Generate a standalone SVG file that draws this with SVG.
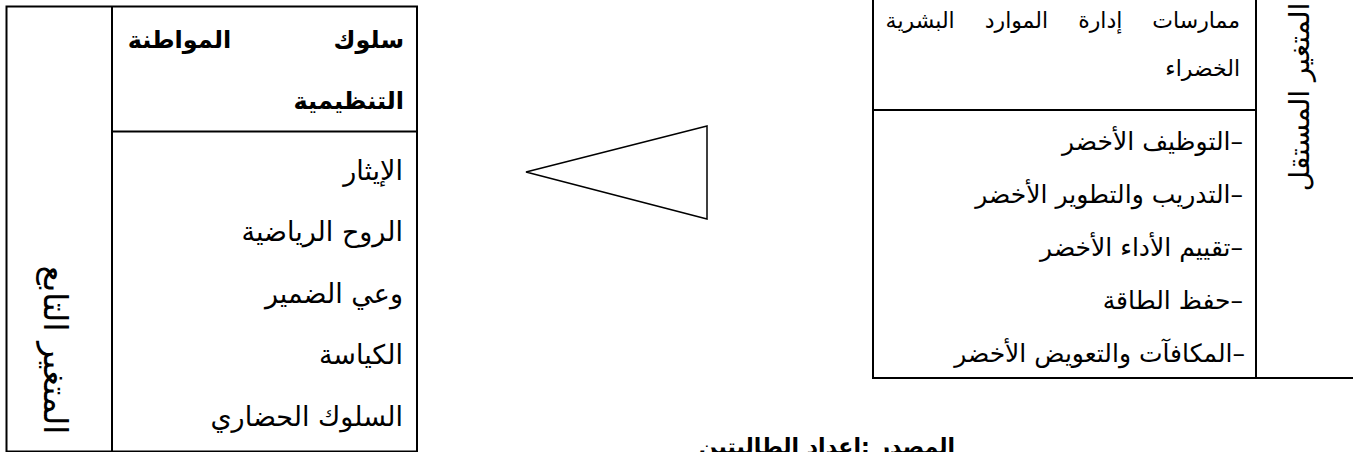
<svg xmlns="http://www.w3.org/2000/svg" width="1353" height="452" viewBox="0 0 1353 452">
<style>
.box{fill:none;stroke:#000;stroke-width:2}
.ln{stroke:#000;stroke-width:2}
.t{font-family:'DejaVu Sans',sans-serif;fill:#000;direction:rtl}
.b{font-weight:bold}
.li{font-size:27px}
.ri{font-size:25px}
</style>
<rect width="1353" height="452" fill="#fff"/>
<g id="dependent-variable">
  <rect class="box" x="6.5" y="6.5" width="410.5" height="445"/>
  <line class="ln" x1="112" y1="6.5" x2="112" y2="451.5"/>
  <line class="ln" x1="112" y1="131.5" x2="417" y2="131.5"/>
  <text class="t" font-size="33" text-anchor="middle" transform="translate(44,350) rotate(90)">المتغير التابع</text>
  <text class="t b" font-size="24" text-anchor="start" x="404" y="48" word-spacing="94">سلوك المواطنة</text>
  <text class="t b" font-size="24" text-anchor="start" x="404" y="109">التنظيمية</text>
  <text class="t li" text-anchor="start" x="403" y="180">الإيثار</text>
  <text class="t li" text-anchor="start" x="403" y="241">الروح الرياضية</text>
  <text class="t li" text-anchor="start" x="403" y="303">وعي الضمير</text>
  <text class="t li" text-anchor="start" x="403" y="364">الكياسة</text>
  <text class="t li" text-anchor="start" x="403" y="426">السلوك الحضاري</text>
</g>
<g id="connectors">
  <polygon points="707,126 526,172 707,219" fill="none" stroke="#000" stroke-width="1.5"/>
</g>
<g id="independent-variable">
  <rect class="box" x="873" y="-5" width="490" height="383"/>
  <line class="ln" x1="1256" y1="-5" x2="1256" y2="378"/>
  <line class="ln" x1="873" y1="110" x2="1256" y2="110"/>
  <text class="t" font-size="28" text-anchor="middle" transform="translate(1309,97) rotate(-90)">المتغير المستقل</text>
  <text class="t" font-size="22" text-anchor="start" x="1240" y="28" word-spacing="23">ممارسات إدارة الموارد البشرية</text>
  <text class="t" font-size="22" text-anchor="start" x="1240" y="76">الخضراء</text>
  <text class="t ri" text-anchor="start" x="1243" y="150">–التوظيف الأخضر</text>
  <text class="t ri" text-anchor="start" x="1243" y="203">–التدريب والتطوير الأخضر</text>
  <text class="t ri" text-anchor="start" x="1243" y="256">–تقييم الأداء الأخضر</text>
  <text class="t ri" text-anchor="start" x="1243" y="309">–حفظ الطاقة</text>
  <text class="t ri" text-anchor="start" x="1245" y="362">–المكافآت والتعويض الأخضر</text>
</g>
<g id="source">
  <text class="t b" font-size="22" text-anchor="start" x="955" y="454">المصدر :إعداد الطالبتين</text>
</g>
</svg>
